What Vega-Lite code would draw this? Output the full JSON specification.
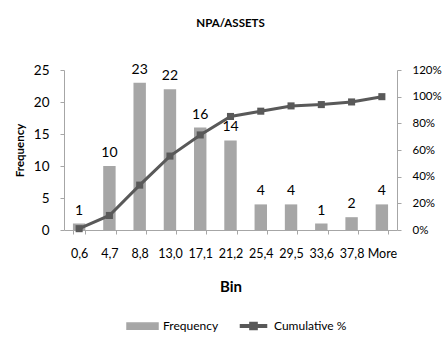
{
  "$schema": "https://vega.github.io/schema/vega-lite/v6.json",
  "width": 333,
  "height": 160,
  "autosize": {"type": "none"},
  "padding": {"left": 64, "top": 70, "right": 47, "bottom": 107},
  "background": "white",
  "title": {"text": "NPA/ASSETS", "font": "Lato", "fontSize": 11.5, "fontWeight": "bold", "color": "#000000", "offset": 33},
  "config": {
    "view": {"stroke": null},
    "font": "Lato"
  },
  "data": {
    "values": [
      {"bin": "0,6", "freq": 1, "cum": 0.0099},
      {"bin": "4,7", "freq": 10, "cum": 0.1089},
      {"bin": "8,8", "freq": 23, "cum": 0.3366},
      {"bin": "13,0", "freq": 22, "cum": 0.5545},
      {"bin": "17,1", "freq": 16, "cum": 0.7129},
      {"bin": "21,2", "freq": 14, "cum": 0.8515},
      {"bin": "25,4", "freq": 4, "cum": 0.8911},
      {"bin": "29,5", "freq": 4, "cum": 0.9307},
      {"bin": "33,6", "freq": 1, "cum": 0.9406},
      {"bin": "37,8", "freq": 2, "cum": 0.9604},
      {"bin": "More", "freq": 4, "cum": 1.0}
    ]
  },
  "encoding": {
    "x": {
      "field": "bin", "type": "nominal", "sort": null,
      "scale": {"paddingInner": 0.59, "paddingOuter": 0.295},
      "axis": {
        "title": "Bin", "titleFont": "Lato", "titleFontSize": 15, "titleFontWeight": "bold", "titleColor": "#000",
        "titlePadding": 20,
        "labelAngle": 0, "labelFont": "Lato", "labelFontSize": 12.5, "labelColor": "#000", "labelPadding": 13,
        "tickBand": "extent", "tickSize": 4, "tickColor": "#a6a6a6", "domainColor": "#a6a6a6"
      }
    }
  },
  "layer": [
    {
      "mark": {"type": "bar"},
      "encoding": {
        "y": {
          "field": "freq", "type": "quantitative",
          "scale": {"domain": [0, 25]},
          "axis": {
            "orient": "left", "title": "Frequency", "values": [0, 5, 10, 15, 20, 25], "grid": false,
            "titleFont": "Lato", "titleFontSize": 11.5, "titleFontWeight": "bold", "titleColor": "#000", "titlePadding": 8,
            "labelFont": "Lato", "labelFontSize": 13.5, "labelColor": "#000", "labelPadding": 11,
            "tickSize": 4, "tickColor": "#a6a6a6", "domainColor": "#a6a6a6"
          }
        },
        "color": {
          "datum": "Frequency",
          "scale": {"domain": ["Frequency", "Cumulative %"], "range": ["#a6a6a6", "#595959"]},
          "legend": {
            "title": null, "orient": "none", "legendX": 62, "legendY": 239, "direction": "horizontal",
            "labelFont": "Lato", "labelFontSize": 12, "labelColor": "#000",
            "symbolSize": 961, "columnPadding": 18, "labelOffset": 4,
            "encode": {
              "symbols": {
                "update": {
                  "shape": {"signal": "datum.value === 'Frequency' ? 'M-1,-0.2H1V0.2H-1Z' : 'M-0.84,-0.08H0.84V0.08H-0.84Z M-0.23,-0.23H0.23V0.23H-0.23Z'"},
                  "fill": {"signal": "datum.value === 'Frequency' ? '#a6a6a6' : '#595959'"},
                  "stroke": {"value": "transparent"},
                  "opacity": {"value": 1},
                  "fillOpacity": {"value": 1}
                }
              }
            }
          }
        }
      }
    },
    {
      "mark": {"type": "text", "baseline": "alphabetic", "dy": -9, "font": "Lato", "fontSize": 14, "color": "#000"},
      "encoding": {
        "y": {"field": "freq", "type": "quantitative", "scale": {"domain": [0, 25]}, "axis": null},
        "text": {"field": "freq", "type": "quantitative"}
      }
    },
    {
      "mark": {"type": "line", "strokeWidth": 3, "color": "#595959"},
      "encoding": {
        "y": {
          "field": "cum", "type": "quantitative",
          "scale": {"domain": [0, 1.2]},
          "axis": {
            "orient": "right", "title": null, "values": [0, 0.2, 0.4, 0.6, 0.8, 1.0, 1.2], "format": ".0%", "grid": false,
            "labelFont": "Lato", "labelFontSize": 11.5, "labelColor": "#000", "labelPadding": 11,
            "tickSize": 4, "tickColor": "#a6a6a6", "domainColor": "#a6a6a6"
          }
        },
        "color": {"datum": "Cumulative %"}
      }
    },
    {
      "mark": {"type": "square", "size": 50, "color": "#595959", "opacity": 1, "filled": true},
      "encoding": {
        "y": {"field": "cum", "type": "quantitative", "scale": {"domain": [0, 1.2]}, "axis": null}
      }
    }
  ],
  "resolve": {"scale": {"y": "independent"}}
}
